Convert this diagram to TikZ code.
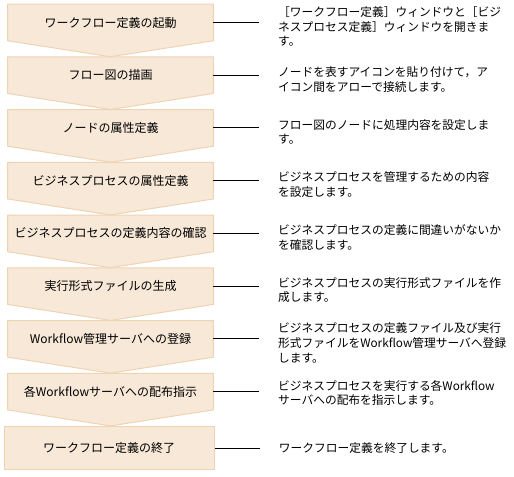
\documentclass[tikz,border=0pt]{standalone}
\usepackage{fontspec}
\newfontfamily\jpfont{Noto Sans CJK JP}
\usetikzlibrary{positioning,calc,backgrounds}
\definecolor{stepfill}{HTML}{F7E8D8}
\definecolor{stepline}{HTML}{EFD3B3}

\begin{document}
\begin{tikzpicture}[x=0.75pt, y=-0.75pt,
        stepbox/.style={rectangle, minimum width=153.75pt, minimum height=27pt, inner sep=0pt, align=center, font=\jpfont\fontsize{9pt}{10.5pt}\selectfont},
        endbox/.style={stepbox, minimum width=157.5pt, minimum height=32.25pt, fill=stepfill, draw=stepline, line width=0.75pt},
        chevron/.style={fill=stepfill, draw=stepline, line width=0.75pt, line join=miter},
        link/.style={draw=black, line width=0.75pt},
        desc/.style={align=left, inner sep=0pt, yshift=-3pt, font=\jpfont\fontsize{8.8pt}{11pt}\selectfont},
    ]
        \useasboundingbox (0,0) rectangle (514,477);

        % Left column: the steps, one under the other
        \node[stepbox] (s1) at (110.5,22.5) {ワークフロー定義の起動};
        \node[stepbox, below=12.15pt of s1] (s2) {フロー図の描画};
        \node[stepbox, below=12.15pt of s2] (s3) {ノードの属性定義};
        \node[stepbox, below=12.15pt of s3] (s4) {ビジネスプロセスの属性定義};
        \node[stepbox, below=12.15pt of s4] (s5) {ビジネスプロセスの定義内容の確認};
        \node[stepbox, below=12.15pt of s5] (s6) {実行形式ファイルの生成};
        \node[stepbox, below=12.15pt of s6] (s7) {Workflow管理サーバへの登録};
        \node[stepbox, below=12.15pt of s7] (s8) {各Workflowサーバへの配布指示};
        \node[endbox, below=12.15pt of s8, xshift=-1.1pt] (s9) {ワークフロー定義の終了};

        % Chevron outlines behind the step texts
        \begin{scope}[on background layer]
            \foreach \i in {1,...,8}
                \draw[chevron] (s\i.north west) -- (s\i.north east) -- (s\i.south east)
                    -- ($(s\i.south)+(0,16)$) -- (s\i.south west) -- cycle;
        \end{scope}

        % Leader lines to the right
        \draw[link] (s1.east) -- ++(34.5pt,0) coordinate (e1);
        \draw[link] (s2.east) -- ++(34.5pt,0) coordinate (e2);
        \draw[link] (s3.east) -- ++(34.5pt,0) coordinate (e3);
        \draw[link] (s4.east) -- ++(34.5pt,0) coordinate (e4);
        \draw[link] (s5.east) -- ++(34.5pt,0) coordinate (e5);
        \draw[link] (s6.east) -- ++(34.5pt,0) coordinate (e6);
        \draw[link] (s7.east) -- ++(34.5pt,0) coordinate (e7);
        \draw[link] (s8.east) -- ++(34.5pt,0) coordinate (e8);
        \draw[link] (s9.east) -- ++(34.1pt,0) coordinate (e9);

        % Descriptions
        \node[desc, right=14pt of e1] (d1) {［ワークフロー定義］ウィンドウと［ビジ\\ネスプロセス定義］ウィンドウを開きま\\す。};
        \node[desc, right=14pt of e2] (d2) {ノードを表すアイコンを貼り付けて，ア\\イコン間をアローで接続します。};
        \node[desc, right=14pt of e3] (d3) {フロー図のノードに処理内容を設定しま\\す。};
        \node[desc, right=14pt of e4] (d4) {ビジネスプロセスを管理するための内容\\を設定します。};
        \node[desc, right=14pt of e5] (d5) {ビジネスプロセスの定義に間違いがないか\\を確認します。};
        \node[desc, right=14pt of e6] (d6) {ビジネスプロセスの実行形式ファイルを作\\成します。};
        \node[desc, right=14pt of e7] (d7) {ビジネスプロセスの定義ファイル及び実行\\形式ファイルをWorkflow管理サーバへ登録\\します。};
        \node[desc, right=14pt of e8, yshift=2pt] (d8) {ビジネスプロセスを実行する各Workflow\\サーバへの配布を指示します。};
        \node[desc, right=14pt of e9, yshift=3pt] (d9) {ワークフロー定義を終了します。};

    \end{tikzpicture}
\end{document}
